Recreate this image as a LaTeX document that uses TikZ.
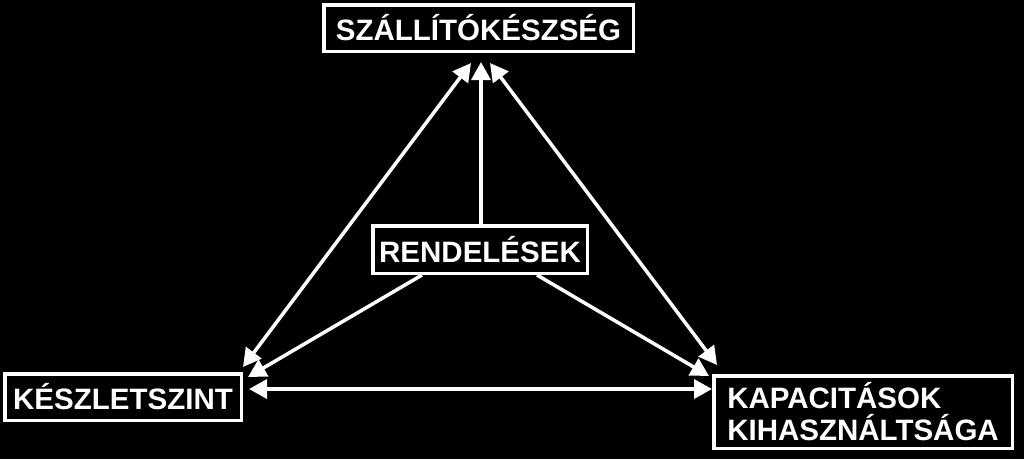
\documentclass[tikz,border=0pt]{standalone}
\usepackage{fontspec}
\setmainfont{Liberation Sans}
\usetikzlibrary{arrows.meta,calc}
\begin{document}
\begin{tikzpicture}[x=1pt,y=-1pt,
  box/.style={draw=white,line width=3.5pt,fill=black,text=white,
    font=\fontsize{29.5}{32}\selectfont\bfseries,inner sep=0pt,align=left},
  conn/.style={draw=white,line width=3.5pt},
  onehead/.style={-{Triangle[length=18pt,width=19pt]}},
  twoheads/.style={{Triangle[length=18pt,width=19pt]}-{Triangle[length=18pt,width=19pt]}}]
\fill[black] (0,0) rectangle (1024,459);
\useasboundingbox (0,0) rectangle (1024,459);

\node[box,minimum width=309.5pt,minimum height=46.5pt] (top) at (478.5,28) {SZÁLLÍTÓKÉSZSÉG};
\node[box,minimum width=236.5pt,minimum height=46.5pt] (left) at (123,397) {KÉSZLETSZINT};
\node[box,minimum width=298.5pt,minimum height=72.5pt] (right) at (863,412) {KAPACITÁSOK\\KIHASZNÁLTSÁGA};
\node[box,minimum width=214.5pt,minimum height=47.5pt] (mid) at (480,249.5) {RENDELÉSEK};

\coordinate (t1) at ($(top.south)+(-7.5,10)$);
\coordinate (t2) at ($(top.south)+(2.5,9)$);
\coordinate (t3) at ($(top.south)+(11.5,10)$);
\coordinate (l1) at ($(left.north east)+(0,-5)$);
\coordinate (l2) at ($(left.north east)+(5,5)$);
\coordinate (l3) at ($(left.east)+(6,-8)$);
\coordinate (r1) at ($(right.north west)+(5,-9)$);
\coordinate (r2) at ($(right.north west)+(-3,2)$);
\coordinate (r3) at ($(right.west)+(0,-23)$);
\coordinate (m0) at ($(mid.north)+(1,0)$);
\coordinate (ml) at ($(mid.south)+(-58,0)$);
\coordinate (mr) at ($(mid.south)+(57,0)$);

\draw[conn,twoheads] (l1) -- (t1);
\draw[conn,twoheads] (r1) -- (t3);
\draw[conn,twoheads] (l3) -- (r3);
\draw[conn,onehead] (m0) -- (t2);
\draw[conn,onehead] (ml) -- (l2);
\draw[conn,onehead] (mr) -- (r2);
\end{tikzpicture}
\end{document}
